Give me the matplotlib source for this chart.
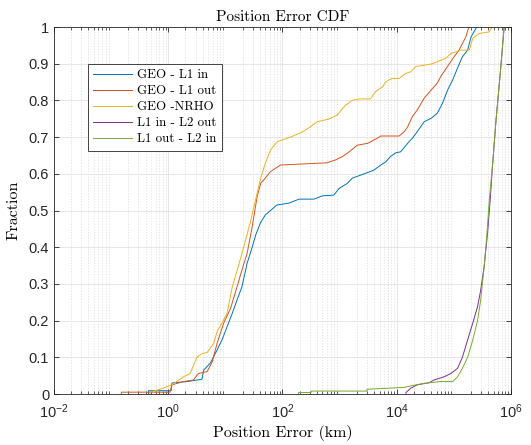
import numpy as np
import matplotlib
matplotlib.use("Agg")
import matplotlib.pyplot as plt
from matplotlib.ticker import LogLocator, NullFormatter

# CDF breakpoints: position error (km) and cumulative fraction
geo_l1in_km = [0.452, 0.452, 1.12, 1.16, 2.14, 3.89, 4.17, 5.50, 7.16, 8.71, 10.7, 13.2,
               16.0, 19.5, 24.0, 29.5, 33.9, 40.7, 50.1, 61.7, 79.4, 129, 195, 355, 501,
               794, 977, 1365, 1660, 2690, 3980, 5250, 6460, 7760, 9550, 11700, 16400,
               18800, 22900, 30200, 39800, 51300, 63100, 77600, 95500, 115000, 141000,
               174000, 200000, 243000, 251000]
geo_l1in_f = [0.0, 0.009, 0.009, 0.03, 0.034, 0.04, 0.065, 0.085, 0.12, 0.147, 0.183, 0.22,
              0.256, 0.292, 0.356, 0.40, 0.433, 0.465, 0.488, 0.50, 0.515, 0.52, 0.531, 0.531,
              0.54, 0.542, 0.56, 0.574, 0.588, 0.60, 0.61, 0.624, 0.633, 0.647, 0.657, 0.66,
              0.6875, 0.697, 0.715, 0.742, 0.751, 0.765, 0.792, 0.828, 0.856, 0.887, 0.919,
              0.937, 0.973, 0.996, 1.0]

geo_l1out_km = [0.151, 0.151, 1.07, 1.10, 1.16, 1.86, 2.75, 3.39, 4.79, 5.89, 7.16, 9.33,
                12.3, 16.0, 19.5, 24.0, 29.5, 36.0, 41.7, 46.8, 61.7, 92.3, 603, 851, 1120,
                1365, 2040, 3090, 4570, 5250, 11000, 13500, 15500, 18800, 22900, 30200,
                39800, 51300, 58900, 83200, 101000, 123000, 162000, 174000, 186000]
geo_l1out_f = [0.0, 0.005, 0.005, 0.011, 0.025, 0.034, 0.038, 0.056, 0.061, 0.088, 0.138,
               0.193, 0.233, 0.292, 0.338, 0.383, 0.456, 0.538, 0.575, 0.583, 0.606, 0.624,
               0.63, 0.638, 0.647, 0.656, 0.678, 0.683, 0.697, 0.703, 0.703, 0.715, 0.728,
               0.756, 0.774, 0.806, 0.828, 0.847, 0.865, 0.90, 0.919, 0.937, 0.973, 0.99, 1.0]

geo_nrho_km = [0.479, 0.479, 0.724, 1.16, 1.41, 1.86, 2.43, 3.16, 3.89, 4.79, 6.24, 7.16,
               8.71, 10.7, 13.2, 17.0, 20.9, 27.5, 33.9, 40.7, 50.1, 61.7, 80.7, 138, 209,
               269, 407, 646, 912, 1120, 1270, 1660, 2190, 3470, 4270, 5620, 6460, 8320,
               11000, 14500, 17600, 21400, 42700, 72400, 89100, 108000, 132000, 186000,
               214000, 275000, 417000, 468000]
geo_nrho_f = [0.0, 0.005, 0.013, 0.025, 0.034, 0.047, 0.056, 0.10, 0.11, 0.113, 0.138, 0.17,
              0.193, 0.22, 0.292, 0.35, 0.40, 0.47, 0.53, 0.583, 0.629, 0.665, 0.6875, 0.70,
              0.712, 0.722, 0.742, 0.749, 0.76, 0.778, 0.787, 0.80, 0.804, 0.804, 0.824,
              0.837, 0.851, 0.86, 0.86, 0.874, 0.878, 0.892, 0.90, 0.915, 0.928, 0.932,
              0.937, 0.937, 0.969, 0.982, 0.987, 1.0]

l1in_l2out_km = [14500, 14500, 17600, 22900, 37200, 44700, 67600, 89100, 116000, 141000,
                 174000, 214000, 260000, 295000, 339000, 389000, 432000, 479000, 550000,
                 646000, 759000]
l1in_l2out_f = [0.0, 0.004, 0.016, 0.025, 0.031, 0.038, 0.047, 0.056, 0.07, 0.10, 0.147,
                0.193, 0.238, 0.283, 0.347, 0.438, 0.528, 0.63, 0.75, 0.87, 1.0]

l1out_l2in_km = [191, 191, 316, 316, 3020, 3020, 13500, 20000, 30200, 58900, 95500, 116000,
                 141000, 174000, 214000, 260000, 295000, 339000, 380000, 417000, 479000,
                 550000, 646000, 759000]
l1out_l2in_f = [0.0, 0.004, 0.004, 0.008, 0.008, 0.013, 0.018, 0.024, 0.029, 0.034, 0.034,
                0.047, 0.07, 0.10, 0.147, 0.20, 0.256, 0.347, 0.438, 0.528, 0.63, 0.75,
                0.87, 1.0]

labels = ["GEO - L1 in", "GEO - L1 out", "GEO -NRHO", "L1 in - L2 out", "L1 out - L2 in"]
colors = ["#0072BD", "#D95319", "#EDB120", "#7E2F8E", "#77AC30"]

xtick_vals = [1e-2, 1e0, 1e2, 1e4, 1e6]
xtick_labels = [r"$\mathregular{10^{-2}}$", r"$\mathregular{10^{0}}$",
                r"$\mathregular{10^{2}}$", r"$\mathregular{10^{4}}$",
                r"$\mathregular{10^{6}}$"]
ytick_vals = [0, 0.1, 0.2, 0.3, 0.4, 0.5, 0.6, 0.7, 0.8, 0.9, 1]
ytick_labels = ["0", "0.1", "0.2", "0.3", "0.4", "0.5", "0.6", "0.7", "0.8", "0.9", "1"]

plt.rcParams["axes.unicode_minus"] = False
serif = ["cmr10", "DejaVu Serif"]
sans = ["Liberation Sans", "DejaVu Sans"]

fig = plt.figure(figsize=(5.31, 4.45), dpi=100)
ax = fig.add_axes([0.1017, 0.1146, 0.8606, 0.8247])

series = [(geo_l1in_km, geo_l1in_f), (geo_l1out_km, geo_l1out_f), (geo_nrho_km, geo_nrho_f),
          (l1in_l2out_km, l1in_l2out_f), (l1out_l2in_km, l1out_l2in_f)]
for (x, f), lab, c in zip(series, labels, colors):
    ax.plot(x, f, color=c, lw=0.7, label=lab)

ax.set_xscale("log")
ax.set_xlim(1e-2, 1e6)
ax.set_ylim(0, 1)

ax.xaxis.set_major_locator(LogLocator(base=10, numticks=20))
ax.xaxis.set_minor_locator(LogLocator(base=10, subs=np.arange(2, 10), numticks=100))
ax.xaxis.set_minor_formatter(NullFormatter())
ax.set_xticks(xtick_vals, xtick_labels)
ax.set_yticks(ytick_vals, ytick_labels)

ax.grid(True, which="major", color="#e2e2e2", lw=0.6)
ax.grid(True, which="minor", axis="x", color="#dcdcdc", lw=0.5, ls=(0, (2, 2)))
ax.set_axisbelow(True)

ax.tick_params(which="both", direction="in", top=True, right=True, colors="#262626",
               labelsize=10.5)
ax.tick_params(which="major", length=3.5, width=0.6)
ax.tick_params(which="minor", length=2, width=0.5)
ax.tick_params(axis="x", which="major", pad=6)
for lbl in ax.get_xticklabels() + ax.get_yticklabels():
    lbl.set_fontfamily(sans)
    lbl.set_color("#262626")
for sp in ax.spines.values():
    sp.set_color("#262626")
    sp.set_linewidth(0.6)

ax.set_title("Position Error CDF", family=serif, fontsize=11, color="#000000", pad=4)
ax.set_xlabel("Position Error (km)", family=serif, fontsize=11.5, labelpad=3)
ax.set_ylabel("Fraction", family=serif, fontsize=11.5, labelpad=6)

leg = ax.legend(loc="upper left", bbox_to_anchor=(0.0744, 0.899), borderaxespad=0,
                prop={"family": serif, "size": 9.3},
                handlelength=3.0, handletextpad=0.4, borderpad=0.4, labelspacing=0.3,
                fancybox=False, framealpha=1)
leg.get_frame().set_edgecolor("#262626")
leg.get_frame().set_linewidth(0.6)

fig.savefig("out.png", dpi=100)
